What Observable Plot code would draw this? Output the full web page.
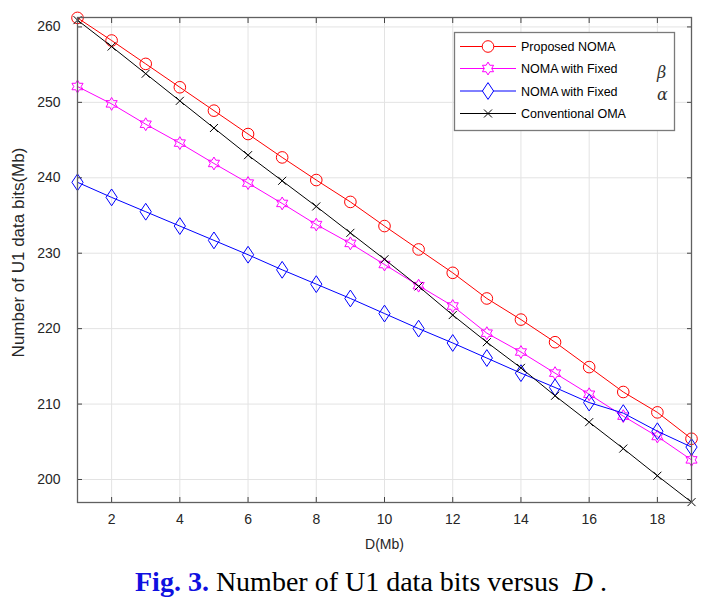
<!DOCTYPE html>
<html>
<head>
<meta charset="utf-8">
<script src="https://cdn.jsdelivr.net/npm/d3@7"></script>
<script src="https://cdn.jsdelivr.net/npm/@observablehq/plot@0.6"></script>
<style>
  html, body { margin: 0; padding: 0; background: #fff; }
  #wrap { position: relative; width: 716px; height: 601px; overflow: hidden; }
  #caption { position: absolute; left: 135px; top: 566px; white-space: nowrap; line-height: 1.15;
    font-family: "Liberation Serif", "Times New Roman", serif; font-size: 28px; color: #000; }
  #caption .fig { color: #1010e0; font-weight: bold; }
</style>
</head>
<body>
<div id="wrap"><div id="chart"></div><div id="caption"><span class="fig">Fig. 3.</span> Number of U1 data bits versus&nbsp; <i>D</i> .</div></div>
<script>
const D = [1, 2, 3, 4, 5, 6, 7, 8, 9, 10, 11, 12, 13, 14, 15, 16, 17, 18, 19];
const proposedNOMA = [261.2, 258.2, 255.1, 252.0, 248.9, 245.8, 242.7, 239.7, 236.8, 233.6, 230.5, 227.4, 224.0, 221.2, 218.2, 214.9, 211.6, 208.9, 205.4];
const fixedBeta = [252.1, 249.8, 247.1, 244.6, 241.9, 239.3, 236.6, 233.8, 231.3, 228.5, 225.7, 223.0, 219.4, 216.9, 214.1, 211.3, 208.4, 205.7, 202.6];
const fixedAlpha = [239.4, 237.4, 235.5, 233.6, 231.7, 229.8, 227.8, 225.9, 224.0, 222.0, 220.0, 218.1, 216.1, 214.1, 212.2, 210.2, 208.8, 206.4, 204.3];
const conventionalOMA = [260.9, 257.4, 253.8, 250.2, 246.6, 243.0, 239.6, 236.2, 232.7, 229.2, 225.6, 221.8, 218.2, 214.8, 211.1, 207.6, 204.1, 200.5, 197.0];
const xTicks = [2, 4, 6, 8, 10, 12, 14, 16, 18];
const yTicks = [200, 210, 220, 230, 240, 250, 260];
const seriesNames = ["Proposed NOMA", "NOMA with Fixed", "NOMA with Fixed", "Conventional OMA"];
const seriesColors = ["#ff0000", "#ff00ff", "#0000ff", "#000000"];
const xLabel = "D(Mb)";
const yLabel = "Number of U1 data bits(Mb)";

// custom marker shapes (MATLAB-like)
const hexagram = {
  draw(ctx, size) {
    const R = Math.sqrt(size / Math.PI) * 1.15, r = R / Math.sqrt(3);
    for (let i = 0; i < 12; i++) {
      const a = -Math.PI / 2 + i * Math.PI / 6;
      const rr = i % 2 === 0 ? R : r;
      const x = rr * Math.cos(a), y = rr * Math.sin(a);
      if (i === 0) ctx.moveTo(x, y); else ctx.lineTo(x, y);
    }
    ctx.closePath();
  }
};
const tallDiamond = {
  draw(ctx, size) {
    const r = Math.sqrt(size / Math.PI);
    const w = r * 1.0, h = r * 1.5;
    ctx.moveTo(0, -h); ctx.lineTo(w, 0); ctx.lineTo(0, h); ctx.lineTo(-w, 0); ctx.closePath();
  }
};
const xCross = {
  draw(ctx, size) {
    const r = Math.sqrt(size / Math.PI);
    ctx.moveTo(-r, -r); ctx.lineTo(r, r); ctx.moveTo(r, -r); ctx.lineTo(-r, r);
  }
};
const symbols = [d3.symbolCircle, hexagram, tallDiamond, xCross];
const radii = [5.8, 5.6, 5.6, 4];

const all = [proposedNOMA, fixedBeta, fixedAlpha, conventionalOMA];
const rows = [];
all.forEach((vals, s) => vals.forEach((v, i) => rows.push({ s, d: D[i], v })));

const W = 716, H = 552;
const fontAxis = "'Liberation Sans', Arial, Helvetica, sans-serif";

const marks = [
  Plot.gridX(xTicks, { stroke: "#e3e3e3", strokeOpacity: 1 }),
  Plot.gridY(yTicks, { stroke: "#e3e3e3", strokeOpacity: 1 }),
];
all.forEach((vals, s) => {
  const data = rows.filter(r => r.s === s);
  marks.push(Plot.line(data, { x: "d", y: "v", stroke: seriesColors[s], strokeWidth: 1 }));
  marks.push(Plot.dot(data, { x: "d", y: "v", stroke: seriesColors[s], fill: "none", symbol: () => symbols[s], r: radii[s], strokeWidth: 1 }));
});
marks.push(
  Plot.axisX(xTicks, { anchor: "bottom", tickSize: 0, tickPadding: 12, fontSize: 14, fill: "#262626", label: xLabel, labelAnchor: "center", labelArrow: "none", labelOffset: 46 }),
  Plot.axisX(xTicks, { anchor: "bottom", tickSize: -5, text: null, stroke: "#444", label: null }),
  Plot.axisX(xTicks, { anchor: "top", tickSize: -5, text: null, stroke: "#444", label: null }),
  Plot.axisY(yTicks, { anchor: "left", tickSize: 0, tickPadding: 17, fontSize: 14, fill: "#262626", label: null }),
  Plot.axisY(yTicks, { anchor: "left", tickSize: -5, text: null, stroke: "#444", label: null }),
  Plot.axisY(yTicks, { anchor: "right", tickSize: -5, text: null, stroke: "#444", label: null }),
  Plot.frame({ stroke: "#606060", strokeWidth: 1.3 })
);

const chart = Plot.plot({
  width: W, height: H,
  marginLeft: 77, marginRight: 25, marginTop: 17, marginBottom: H - 502,
  style: { fontFamily: fontAxis, fontSize: "14px", color: "#262626", background: "#fff" },
  x: { domain: [1, 19] },
  y: { domain: [196.95, 261.25] },
  marks
});
document.getElementById("chart").appendChild(chart);

const svg = d3.select(chart);
// y axis title
svg.append("text").attr("transform", "translate(24,252.5) rotate(-90)")
  .attr("text-anchor", "middle").attr("font-family", fontAxis).attr("font-size", 17)
  .attr("fill", "#262626").text(yLabel);

// legend box (MATLAB style), drawn into the SVG
const lg = svg.append("g").attr("class", "legend").attr("text-anchor", "start");
lg.append("rect").attr("x", 454.5).attr("y", 32.5).attr("width", 220).attr("height", 98)
  .attr("fill", "#fff").attr("stroke", "#7a7a7a").attr("stroke-width", 1.3);
const rowY = [46.5, 68.5, 91, 113.5];
seriesNames.forEach((name, s) => {
  const y = rowY[s];
  lg.append("line").attr("x1", 460).attr("x2", 516).attr("y1", y).attr("y2", y)
    .attr("stroke", seriesColors[s]).attr("stroke-width", 1);
  lg.append("path").attr("transform", `translate(488,${y})`)
    .attr("d", d3.symbol(symbols[s], Math.PI * radii[s] * radii[s])())
    .attr("fill", "#fff").attr("stroke", seriesColors[s]).attr("stroke-width", 1);
  lg.append("text").attr("x", 521).attr("y", y + 4.5).attr("text-anchor", "start").text(name)
    .attr("font-family", fontAxis).attr("font-size", 12.5).attr("fill", "#000");
});
lg.append("text").attr("x", 657).attr("y", 78).text("β").attr("font-family", "'DejaVu Serif', 'Liberation Serif', serif")
  .attr("font-style", "italic").attr("font-size", 16).attr("fill", "#333");
lg.append("text").attr("x", 657).attr("y", 100).text("α").attr("font-family", "'DejaVu Serif', 'Liberation Serif', serif")
  .attr("font-style", "italic").attr("font-size", 16).attr("fill", "#333");
</script>
</body>
</html>
